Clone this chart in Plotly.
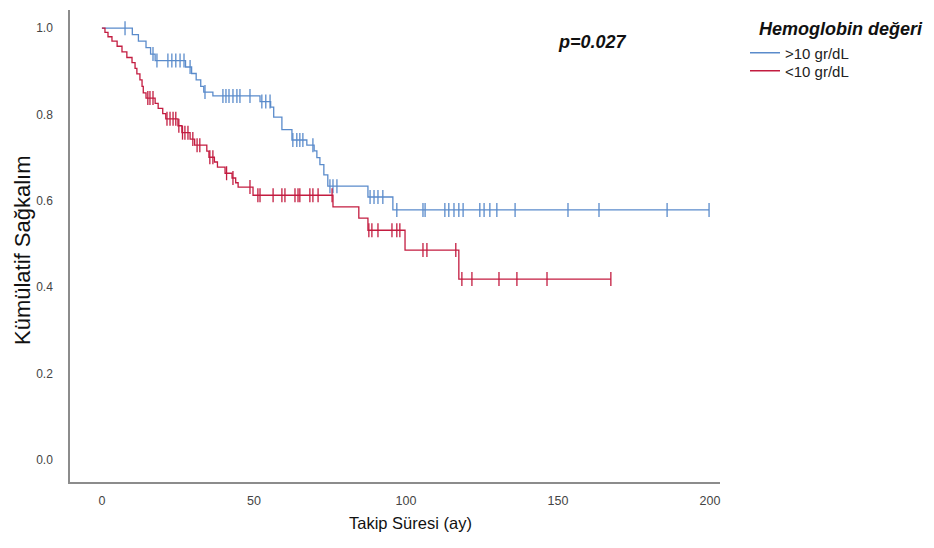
import plotly.graph_objects as go

# Kaplan-Meier steps: event times (months) and survival after each event
blue_event_t = [10, 12, 14.5, 16, 17.5, 27.5, 29.5, 31, 32.5, 33.5, 36.5, 52, 55.5, 56.5,
                59.2, 62.5, 67.4, 69.8, 70.7, 71.7, 73, 74.3, 87.5, 95.7]
blue_event_s = [0.985, 0.97, 0.955, 0.94, 0.925, 0.91, 0.895, 0.88, 0.865, 0.852, 0.843,
                0.83, 0.817, 0.794, 0.765, 0.741, 0.729, 0.716, 0.7, 0.684, 0.66, 0.634,
                0.609, 0.579]
blue_censor_t = [7.6, 16.8, 18.1, 21.7, 23, 24.3, 25.7, 27, 29, 33.9, 39.8, 40.8, 41.8,
                 43.1, 44.4, 45.4, 48.7, 52.6, 53.9, 55.3, 62.8, 64.1, 65.1, 66.1, 69.4,
                 75, 76, 77.3, 88.2, 89.5, 90.8, 92.4, 97, 105.6, 106.3, 112.8, 114.1,
                 115.8, 117.4, 118.8, 124.3, 125.7, 127.6, 129.9, 135.9, 153.3, 163.5,
                 185.9, 199.7]

red_event_t = [1, 2, 3.3, 5, 6.6, 8.2, 9.9, 10.9, 11.5, 12.5, 13.2, 13.6, 14.5, 17.5,
               18.5, 20, 21, 25, 26.3, 29, 30.5, 34.5, 35.2, 37, 38, 40.5, 42.8, 44,
               44.8, 49.7, 76, 84.5, 87.5, 99.7, 117.4]
red_event_s = [0.99, 0.98, 0.97, 0.958, 0.945, 0.932, 0.92, 0.907, 0.894, 0.88, 0.865,
               0.85, 0.838, 0.826, 0.814, 0.802, 0.79, 0.774, 0.758, 0.743, 0.729, 0.715,
               0.701, 0.69, 0.678, 0.664, 0.653, 0.642, 0.632, 0.613, 0.586, 0.56,
               0.532, 0.486, 0.419]
red_censor_t = [15.1, 15.8, 16.8, 21.4, 22.4, 23.4, 24.3, 25.3, 26.5, 27.3, 28.3, 29.9,
                31.3, 32.2, 35.5, 36.5, 41, 43.1, 48.7, 51.3, 52, 56.3, 59.2, 60.2, 63.5,
                64.5, 65.1, 68.4, 69.4, 71.1, 75.7, 87.8, 88.8, 90.8, 95.4, 97, 98,
                105.6, 106.9, 116.4, 118.4, 121.7, 130.6, 136.5, 146.4, 167.4]

group_names = [">10 gr/dL", "<10 gr/dL"]
legend_title = "Hemoglobin değeri"
p_text = "p=0.027"
x_ticks = [0, 50, 100, 150, 200]
y_ticks = [0.0, 0.2, 0.4, 0.6, 0.8, 1.0]

BLUE = "#5a8bcb"
RED = "#c31c40"
FONT = "Liberation Sans, Arial, sans-serif"

# plot area in pixels
L, R, T, B = 70, 214, 10, 66
PW, PH = 934 - L - R, 548 - T - B


def px_x(x):
    return (x - L) / PW


def px_y(y):
    return (548 - B - y) / PH


def km_curve(ev_t, ev_s, end_t):
    xs = [0] + list(ev_t) + [end_t]
    ys = [1.0] + list(ev_s) + [ev_s[-1]]
    return xs, ys


def surv_at(t, ev_t, ev_s):
    s = 1.0
    for et, es in zip(ev_t, ev_s):
        if et <= t:
            s = es
    return s


fig = go.Figure()

groups = [
    (group_names[0], blue_event_t, blue_event_s, blue_censor_t, BLUE, "legend"),
    (group_names[1], red_event_t, red_event_s, red_censor_t, RED, "legend2"),
]
for name, ev_t, ev_s, cen_t, color, leg in groups:
    xs, ys = km_curve(ev_t, ev_s, max(cen_t))
    fig.add_trace(go.Scatter(
        x=xs, y=ys, mode="lines", name=name, legend=leg,
        line=dict(color=color, width=1.3, shape="hv"),
        hoverinfo="skip",
    ))
    fig.add_trace(go.Scatter(
        x=cen_t, y=[surv_at(t, ev_t, ev_s) for t in cen_t],
        mode="markers", showlegend=False,
        marker=dict(symbol="line-ns-open", size=10, color=color,
                    line=dict(color=color, width=1.3)),
        hoverinfo="skip",
    ))

legend_style = dict(
    x=px_x(745), xanchor="left", yanchor="middle",
    font=dict(size=15, family=FONT, color="#222"),
    bgcolor="rgba(0,0,0,0)",
)

fig.update_layout(
    width=934, height=548,
    margin=dict(l=L, r=R, t=T, b=B),
    paper_bgcolor="white", plot_bgcolor="white",
    font=dict(family=FONT, color="#222"),
    showlegend=True,
    legend=dict(y=px_y(53), **legend_style),
    legend2=dict(y=px_y(71), **legend_style),
    xaxis=dict(
        range=[-10.5, 203.3], tickvals=x_ticks, ticks="", showgrid=False,
        zeroline=False, showline=True, linecolor="#8c8c8c", linewidth=1.5,
        tickfont=dict(size=12.5, color="#444"), ticklabelstandoff=6,
    ),
    yaxis=dict(
        range=[-0.051, 1.042], tickvals=y_ticks, tickformat=".1f", ticks="",
        showgrid=False, zeroline=False, showline=True, linecolor="#8c8c8c",
        linewidth=1.5, tickfont=dict(size=12, color="#444"), ticklabelstandoff=13,
    ),
    annotations=[
        dict(text="Kümülatif Sağkalım", xref="paper", yref="paper",
             x=px_x(22), y=px_y(250), xanchor="center", yanchor="middle",
             textangle=-90, showarrow=False,
             font=dict(size=22, color="#111", family=FONT)),
        dict(text="Takip Süresi (ay)", xref="paper", yref="paper",
             x=px_x(410), y=px_y(523), xanchor="center", yanchor="middle",
             showarrow=False, font=dict(size=16.5, color="#111", family=FONT)),
        dict(text="<b><i>" + p_text + "</i></b>", xref="paper", yref="paper",
             x=px_x(592), y=px_y(42), xanchor="center", yanchor="middle",
             showarrow=False, font=dict(size=18, color="#111", family=FONT)),
        dict(text="<b><i>" + legend_title + "</i></b>", xref="paper", yref="paper",
             x=px_x(757), y=px_y(29), xanchor="left", yanchor="middle",
             showarrow=False, font=dict(size=18, color="#111", family=FONT)),
    ],
)

fig.write_html("out.html")
